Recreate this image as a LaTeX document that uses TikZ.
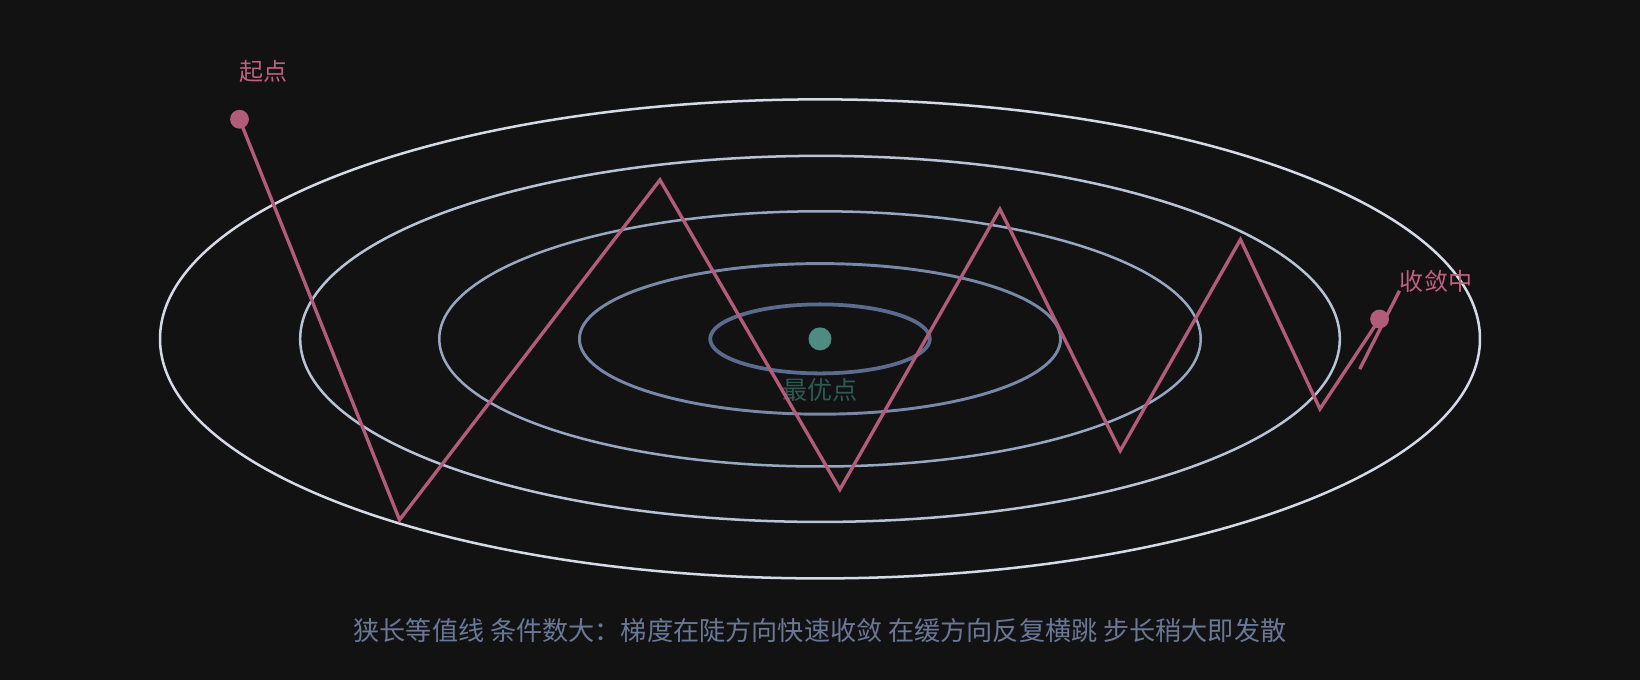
\documentclass[tikz,border=0pt]{standalone}
\usepackage{fontspec}
\setmainfont{Noto Sans CJK SC}
\definecolor{bg}{HTML}{121212}
\definecolor{pinkc}{HTML}{B35C79}
\definecolor{pinkt}{HTML}{C0607F}
\definecolor{e1}{HTML}{5B6B8E}
\definecolor{e2}{HTML}{7888A8}
\definecolor{e3}{HTML}{98A8C2}
\definecolor{e4}{HTML}{B8C4D6}
\definecolor{e5}{HTML}{D4DBE7}
\definecolor{optc}{HTML}{4E8B82}
\definecolor{optt}{HTML}{2E5A54}
\definecolor{capc}{HTML}{6A7898}
\begin{document}
\begin{tikzpicture}[x=0.5pt,y=-0.5pt,
  contour/.style={line width=1.2pt},
  pathline/.style={draw=pinkc,line width=1.6pt,line join=miter},
  dotnode/.style={circle,fill=#1,inner sep=0pt},
  lbl/.style={font=\fontsize{11.5pt}{13pt}\selectfont}]
\fill[bg] (0,0) rectangle (1568,650);
\useasboundingbox (0,0) rectangle (1568,650);
% contours
\draw[contour,draw=e5] (784,324) ellipse [x radius=631,y radius=229];
\draw[contour,draw=e4] (784,324) ellipse [x radius=497,y radius=175];
\draw[contour,draw=e3] (784,324) ellipse [x radius=364,y radius=122];
\draw[contour,draw=e2,line width=1.4pt] (784,324) ellipse [x radius=230,y radius=72];
\draw[contour,draw=e1,line width=1.8pt] (784,324) ellipse [x radius=105,y radius=33];
% optimum
\node[dotnode=optc,minimum size=11pt] (opt) at (784,324) {};
\node[lbl,text=optt,font=\fontsize{12pt}{14pt}\selectfont] (optl) at (784,373) {最优点};
% zigzag
\coordinate (p0) at (229,114);
\coordinate (p1) at (382,497);
\coordinate (p2) at (631,172);
\coordinate (p3) at (803,468);
\coordinate (p4) at (956,200);
\coordinate (p5) at (1071,431);
\coordinate (p6) at (1186,229);
\coordinate (p7) at (1262,391);
\coordinate (p8) at (1319,305);
\coordinate (t0) at (1300,353);
\coordinate (t1) at (1338,278);
\draw[pathline] (p0) -- (p1) -- (p2) -- (p3) -- (p4) -- (p5) -- (p6) -- (p7) -- (p8);
\draw[pathline] (t0) -- (t1);
\node[dotnode=pinkc,minimum size=9pt] (start) at (p0) {};
\node[dotnode=pinkc,minimum size=9pt] (cur) at (p8) {};
\node[lbl,text=pinkt] (startl) at (252,68) {起点};
\node[lbl,text=pinkt] (curl) at (1373,269) {收敛中};
% caption
\node[text=capc,font=\fontsize{12.5pt}{15pt}\selectfont] (cap) at (784,603) {狭长等值线 条件数大：梯度在陡方向快速收敛 在缓方向反复横跳 步长稍大即发散};
\end{tikzpicture}
\end{document}
